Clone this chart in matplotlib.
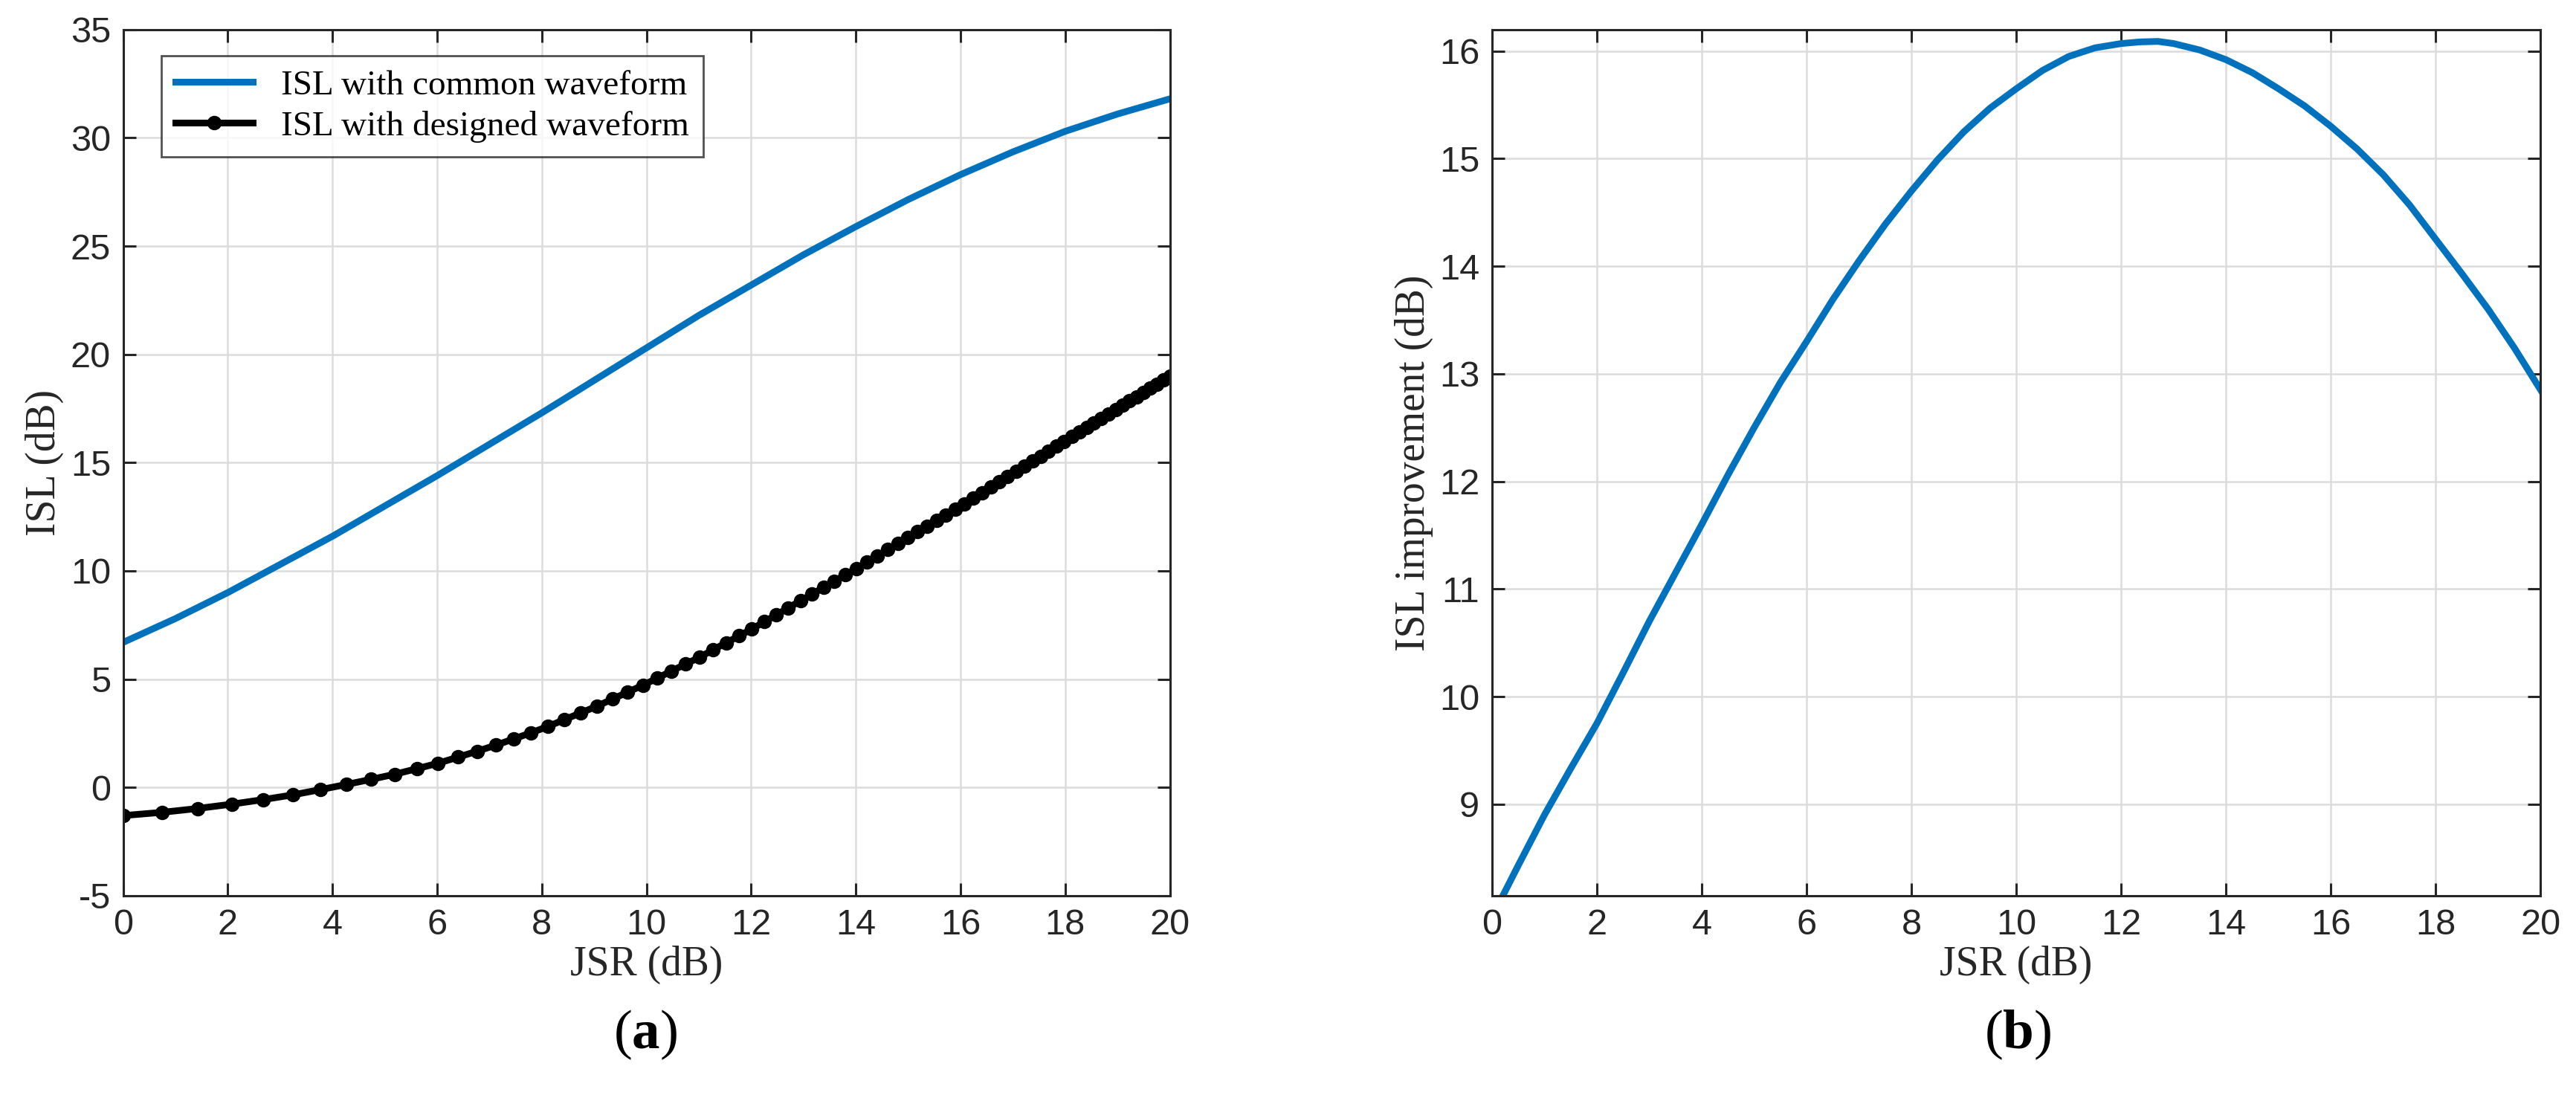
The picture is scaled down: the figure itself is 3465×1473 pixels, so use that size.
import matplotlib
matplotlib.use('Agg')
import matplotlib.pyplot as plt

plt.rcParams['axes.unicode_minus'] = False
plt.rcParams['mathtext.fontset'] = 'custom'
plt.rcParams['mathtext.bf'] = 'Liberation Serif:bold'
plt.rcParams['mathtext.rm'] = 'Liberation Serif'

jsr_int = list(range(21))
isl_common = [6.7, 7.8, 9.0, 10.3, 11.6, 13.0, 14.4, 15.85, 17.3, 18.8, 20.3,
              21.8, 23.2, 24.6, 25.9, 27.15, 28.3, 29.35, 30.3, 31.1, 31.8]

jsr_designed = [0, 0.74, 1.43, 2.08, 2.68, 3.25, 3.77, 4.27, 4.73, 5.19, 5.62, 6.02,
                6.40, 6.76, 7.12, 7.46, 7.79, 8.12, 8.43, 8.74, 9.05, 9.35, 9.64, 9.93,
                10.21, 10.48, 10.75, 11.01, 11.27, 11.52, 11.77, 12.01, 12.25, 12.48,
                12.71, 12.94, 13.16, 13.38, 13.59, 13.80, 14.01, 14.21, 14.41, 14.61,
                14.80, 14.99, 15.18, 15.36, 15.54, 15.72, 15.90, 16.07, 16.24, 16.41,
                16.58, 16.74, 16.90, 17.06, 17.22, 17.38, 17.53, 17.68, 17.83, 17.98,
                18.13, 18.27, 18.41, 18.55, 18.69, 18.83, 18.97, 19.10, 19.23, 19.36,
                19.49, 19.62, 19.75, 19.88, 20.0]
isl_designed = [-1.3, -1.15, -0.97, -0.77, -0.56, -0.34, -0.1, 0.14, 0.37, 0.61, 0.87,
                1.12, 1.40, 1.67, 1.95, 2.24, 2.52, 2.82, 3.13, 3.44, 3.75, 4.08, 4.40,
                4.72, 5.05, 5.38, 5.70, 6.01, 6.35, 6.68, 7.0, 7.31, 7.65, 7.97, 8.29,
                8.62, 8.92, 9.23, 9.53, 9.82, 10.11, 10.40, 10.69, 10.98, 11.26, 11.54,
                11.81, 12.07, 12.33, 12.59, 12.86, 13.1, 13.36, 13.62, 13.87, 14.11,
                14.35, 14.59, 14.83, 15.07, 15.30, 15.52, 15.75, 15.97, 16.2, 16.41,
                16.62, 16.83, 17.04, 17.25, 17.46, 17.65, 17.85, 18.04, 18.24, 18.43,
                18.63, 18.82, 19.0]

jsr_impr = [0, 0.5, 1, 1.5, 2, 2.5, 3, 3.5, 4, 4.5, 5, 5.5, 6, 6.5, 7, 7.5, 8, 8.5, 9,
            9.5, 10, 10.5, 11, 11.5, 12, 12.35, 12.7, 13, 13.5, 14, 14.5, 15, 15.5, 16,
            16.5, 17, 17.5, 18, 18.5, 19, 19.5, 20]
isl_impr = [7.95, 8.43, 8.9, 9.33, 9.75, 10.22, 10.7, 11.15, 11.6, 12.06, 12.5, 12.92,
            13.3, 13.69, 14.05, 14.39, 14.7, 14.99, 15.25, 15.47, 15.65, 15.82, 15.95,
            16.03, 16.07, 16.085, 16.09, 16.07, 16.01, 15.92, 15.8, 15.65, 15.49, 15.3,
            15.09, 14.85, 14.57, 14.25, 13.93, 13.6, 13.24, 12.85]

BLUE = '#0072bd'
serif = 'Liberation Serif'
sans = 'Liberation Sans'

fig = plt.figure(figsize=(34.66, 14.73), dpi=100)
ax1 = fig.add_axes([0.0478, 0.182, 0.4062, 0.791])
ax2 = fig.add_axes([0.579, 0.182, 0.407, 0.791])


def style(ax):
    ax.grid(True, color='#dcdcdc', lw=1.8)
    ax.set_axisbelow(True)
    ax.tick_params(direction='in', length=12, width=2.2, labelsize=35, color='#262626',
                   top=True, right=True, pad=12)
    for lab in ax.get_xticklabels() + ax.get_yticklabels():
        lab.set_fontfamily(sans)
        lab.set_color('#262626')
    for s in ax.spines.values():
        s.set_linewidth(2.2)
        s.set_color('#262626')


ax1.plot(jsr_int, isl_common, color=BLUE, lw=6.5, label='ISL with common waveform')
ax1.plot(jsr_designed, isl_designed, color='black', lw=6.5, marker='o', ms=13,
         label='ISL with designed waveform')
ax1.set_xlim(0, 20)
ax1.set_ylim(-5, 35)
ax1.set_xticks(range(0, 21, 2))
ax1.set_yticks(range(-5, 36, 5))
style(ax1)
ax1.set_xlabel('JSR (dB)', fontsize=40, family=serif, color='#262626')
ax1.set_ylabel('ISL (dB)', fontsize=40, family=serif, color='#262626', labelpad=6)
leg = ax1.legend(loc='upper left', bbox_to_anchor=(0.02, 0.99), prop={'family': serif, 'size': 34},
                 fancybox=False, edgecolor='#262626', handlelength=2.2, borderpad=0.4,
                 labelspacing=0.25)
leg.get_frame().set_linewidth(2)

ax2.plot(jsr_impr, isl_impr, color=BLUE, lw=6.5)
ax2.set_xlim(0, 20)
ax2.set_ylim(8.15, 16.2)
ax2.set_xticks(range(0, 21, 2))
ax2.set_yticks(range(9, 17))
style(ax2)
ax2.set_xlabel('JSR (dB)', fontsize=40, family=serif, color='#262626')
ax2.set_ylabel('ISL improvement (dB)', fontsize=40, family=serif, color='#262626', labelpad=6)

fig.text(0.2506, 0.055, r'($\mathbf{a}$)', ha='center', va='center', fontsize=54, family=serif)
fig.text(0.7832, 0.055, r'($\mathbf{b}$)', ha='center', va='center', fontsize=54, family=serif)

fig.savefig('out.png', dpi=100)
